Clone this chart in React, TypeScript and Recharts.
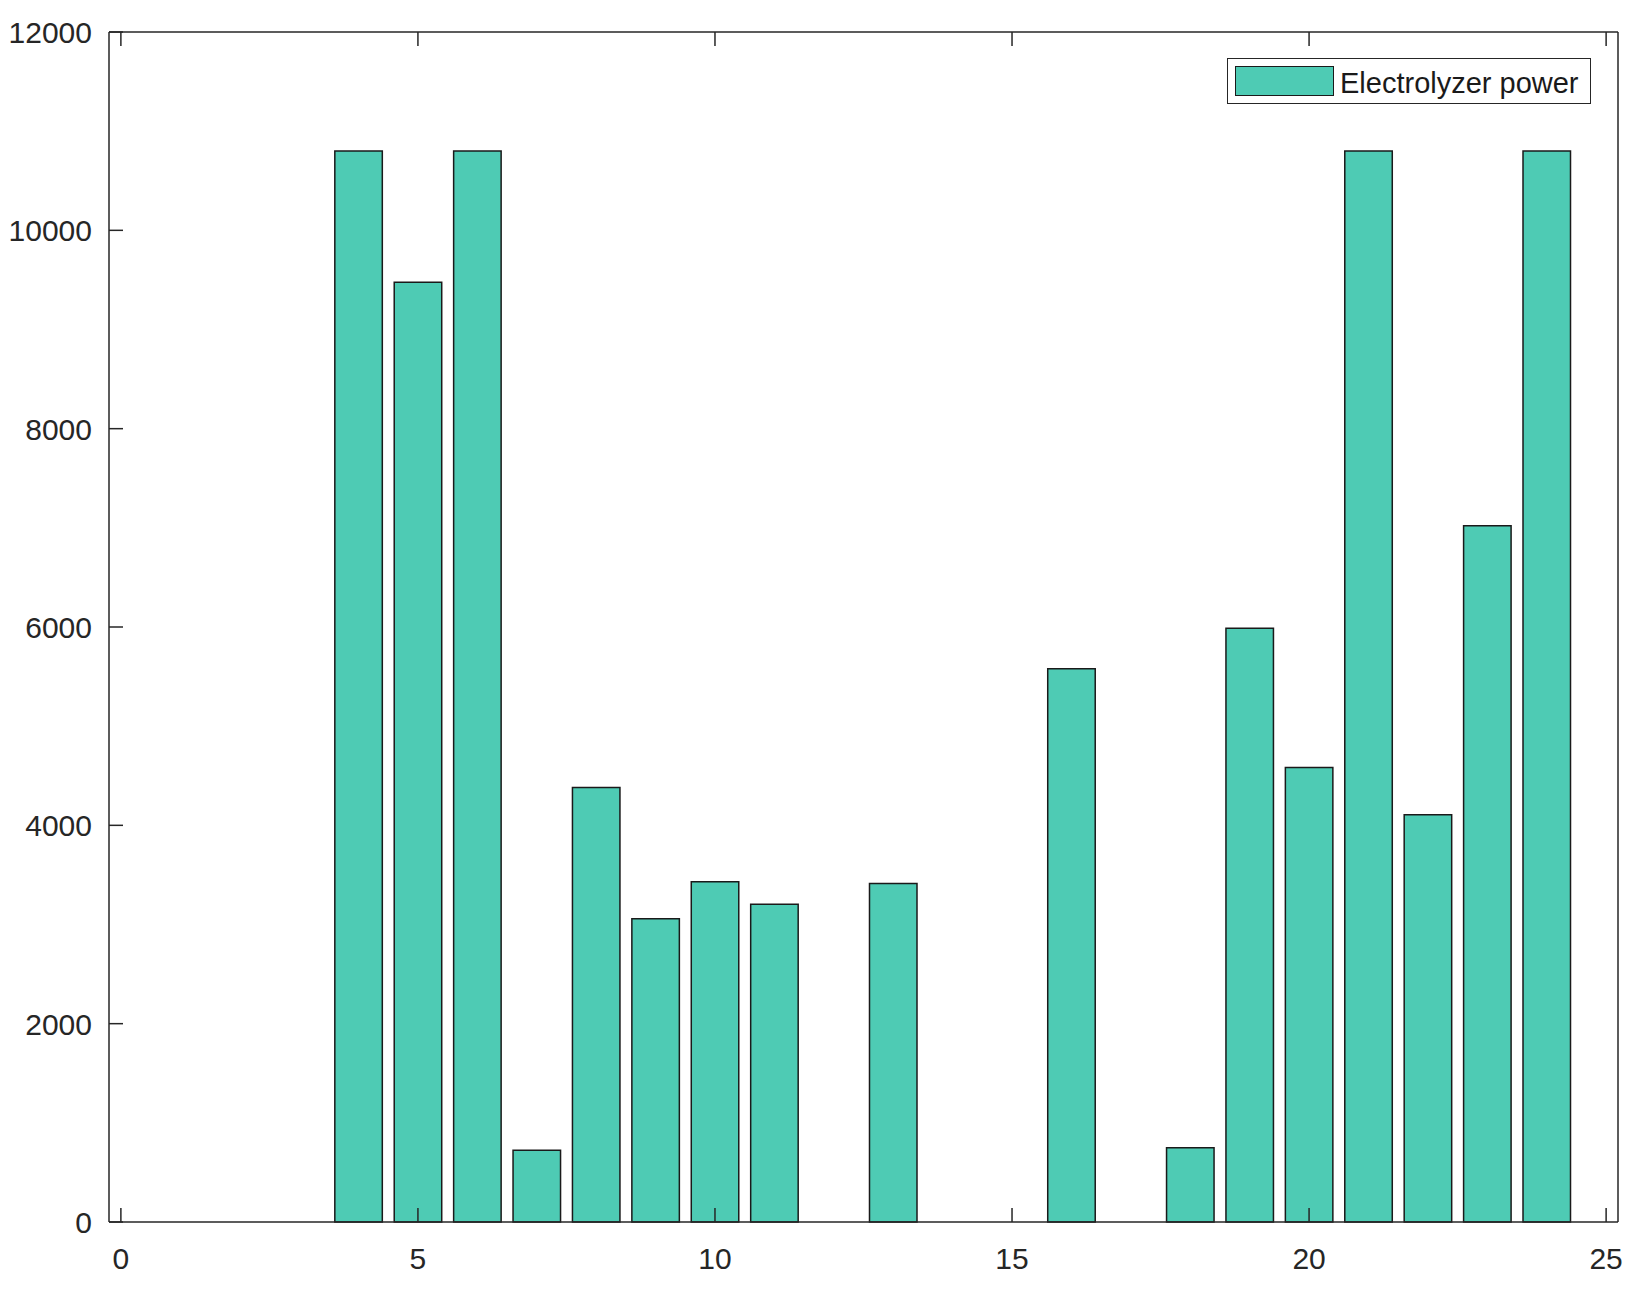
import React from 'react';
import { BarChart, Bar, XAxis, YAxis, Legend } from 'recharts';

// hour of the day and electrolyzer power
const hours = [1, 2, 3, 4, 5, 6, 7, 8, 9, 10, 11, 12, 13, 14, 15, 16, 17, 18, 19, 20, 21, 22, 23, 24];
const electrolyzerPower = [
  0, 0, 0, 10800, 9476, 10800, 724, 4381, 3057, 3430, 3204, 0,
  3413, 0, 0, 5578, 0, 748, 5987, 4583, 10800, 4106, 7020, 10800,
];
const xTicks = [0, 5, 10, 15, 20, 25];
const yTicks = [0, 2000, 4000, 6000, 8000, 10000, 12000];

const data = hours.map((hour, i) => ({ hour, power: electrolyzerPower[i] }));

const FONT = '"Liberation Sans", Arial, Helvetica, sans-serif';
const INK = '#262626';
const BAR_FILL = '#4ECBB4';
const TICK_LEN = 14;

const BottomTick = ({ x, y, payload }: any) => (
  <g>
    <line x1={x} y1={y} x2={x} y2={y - TICK_LEN} stroke={INK} strokeWidth={1.5} />
    <text x={x} y={y + 47} textAnchor="middle" fill={INK} fontSize={30} fontFamily={FONT}>
      {payload.value}
    </text>
  </g>
);

const TopTick = ({ x, y }: any) => (
  <line x1={x} y1={y} x2={x} y2={y + TICK_LEN} stroke={INK} strokeWidth={1.5} />
);

const LeftTick = ({ x, y, payload }: any) => (
  <g>
    <line x1={x} y1={y} x2={x + TICK_LEN} y2={y} stroke={INK} strokeWidth={1.5} />
    <text x={x - 17} y={y + 11} textAnchor="end" fill={INK} fontSize={30} fontFamily={FONT}>
      {payload.value}
    </text>
  </g>
);

const RightTick = ({ x, y }: any) => (
  <line x1={x} y1={y} x2={x - TICK_LEN} y2={y} stroke={INK} strokeWidth={1.5} />
);

const renderLegend = ({ payload }: any) => (
  <div
    style={{
      boxSizing: 'border-box',
      width: 364,
      height: 46,
      border: `1.5px solid ${INK}`,
      background: '#fff',
      display: 'flex',
      alignItems: 'center',
      paddingLeft: 7,
      fontFamily: FONT,
      fontSize: 29,
      color: '#1a1a1a',
    }}
  >
    {(payload || []).map((entry: any) => (
      <React.Fragment key={entry.value}>
        <span
          style={{
            display: 'inline-block',
            boxSizing: 'border-box',
            width: 99,
            height: 30,
            background: entry.color || BAR_FILL,
            border: '1.5px solid #1a1a1a',
            marginRight: 6,
          }}
        />
        <span style={{ position: 'relative', top: 2, whiteSpace: 'nowrap' }}>{entry.value}</span>
      </React.Fragment>
    ))}
  </div>
);

export default function App() {
  return (
    <div style={{ position: 'absolute', left: 0, top: 0, width: 1645, height: 1294, background: '#fff' }}>
      <BarChart
        width={1645}
        height={1294}
        data={data}
        margin={{ top: 31, right: 26, left: 0, bottom: 0 }}
      >
        <XAxis
          dataKey="hour"
          type="number"
          domain={[-0.2, 25.2]}
          ticks={xTicks}
          interval={0}
          height={72}
          tickSize={0}
          tickMargin={0}
          tickLine={false}
          axisLine={{ stroke: INK, strokeWidth: 1.5 }}
          tick={<BottomTick />}
        />
        <XAxis
          xAxisId="top"
          dataKey="hour"
          orientation="top"
          type="number"
          domain={[-0.2, 25.2]}
          ticks={xTicks}
          interval={0}
          height={1}
          tickSize={0}
          tickMargin={0}
          tickLine={false}
          axisLine={{ stroke: INK, strokeWidth: 1.5 }}
          tick={<TopTick />}
        />
        <YAxis
          type="number"
          domain={[0, 12000]}
          ticks={yTicks}
          interval={0}
          width={109}
          tickSize={0}
          tickMargin={0}
          tickLine={false}
          axisLine={{ stroke: INK, strokeWidth: 1.5 }}
          tick={<LeftTick />}
        />
        <YAxis
          yAxisId="right"
          orientation="right"
          type="number"
          domain={[0, 12000]}
          ticks={yTicks}
          interval={0}
          width={1}
          tickSize={0}
          tickMargin={0}
          tickLine={false}
          axisLine={{ stroke: INK, strokeWidth: 1.5 }}
          tick={<RightTick />}
        />
        <Legend
          layout="horizontal"
          verticalAlign="middle"
          align="center"
          content={renderLegend}
          wrapperStyle={{ left: 1227, top: 58, width: 364, height: 46 }}
        />
        <Bar
          dataKey="power"
          name="Electrolyzer power"
          fill={BAR_FILL}
          stroke="#1a1a1a"
          strokeWidth={1.5}
          barSize={47.5}
          isAnimationActive={false}
        />
      </BarChart>
    </div>
  );
}
